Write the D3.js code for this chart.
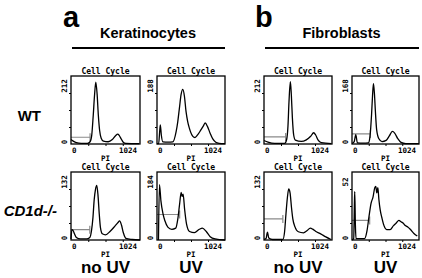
<!DOCTYPE html>
<html lang="en">
<head>
<meta charset="utf-8">
<title>Cell cycle histograms</title>
<script src="https://cdn.jsdelivr.net/npm/d3@7"></script>
<style>
  body { margin: 0; background: #fff; }
  svg { display: block; }
</style>
</head>
<body>
<script>
// histogram data, PI channel (0-1024) and event counts
var kerWtNoUvCh    = [0, 33, 80, 151, 245, 283, 307, 330, 349, 368, 387, 406, 425, 448, 481, 552, 613, 661, 694, 717, 750, 779, 812, 1010];
var kerWtNoUvCount = [14, 9, 4, 2, 2, 7, 26, 89, 151, 193, 157, 89, 42, 18, 9, 7, 14, 26, 31, 26, 14, 5, 2, 1];

var kerWtUvCh    = [0, 25, 40, 50, 65, 89, 164, 239, 288, 313, 338, 363, 388, 413, 437, 462, 487, 537, 572, 611, 661, 701, 726, 761, 800, 840, 885, 935, 1024];
var kerWtUvCount = [1, 1, 34, 53, 25, 6, 5, 6, 34, 62, 100, 137, 151, 132, 90, 62, 44, 22, 18, 25, 39, 51, 58, 48, 30, 14, 5, 2, 1];

var fibWtNoUvCh    = [0, 60, 161, 311, 341, 361, 376, 397, 412, 427, 447, 472, 562, 637, 703, 748, 778, 813, 863, 1014];
var fibWtNoUvCount = [11, 6, 2, 2, 14, 56, 130, 194, 152, 83, 28, 12, 8, 13, 24, 35, 28, 13, 4, 1];

var fibWtUvCh    = [0, 34, 58, 82, 169, 251, 275, 299, 314, 328, 343, 357, 377, 411, 459, 522, 570, 618, 652, 700, 749, 821, 1024];
var fibWtUvCount = [1, 6, 23, 3, 2, 3, 19, 73, 120, 149, 124, 82, 35, 13, 6, 9, 20, 31, 27, 13, 4, 1, 1];

var kerCdNoUvCh    = [0, 14, 33, 51, 79, 140, 233, 279, 303, 326, 344, 363, 382, 400, 419, 437, 465, 512, 582, 652, 698, 721, 749, 777, 815, 908, 1024];
var kerCdNoUvCount = [2, 20, 18, 12, 5, 2, 2, 5, 17, 44, 78, 98, 106, 88, 51, 24, 12, 10, 17, 27, 34, 37, 29, 14, 3, 1, 0];

var kerCdUvCh    = [22, 37, 59, 89, 119, 163, 223, 282, 312, 341, 364, 378, 393, 416, 445, 490, 564, 638, 683, 742, 801, 875, 1024];
var kerCdUvCount = [0, 150, 106, 72, 52, 35, 29, 32, 55, 98, 129, 118, 124, 83, 43, 23, 20, 29, 32, 23, 9, 3, 0];

var fibCdNoUvCh    = [0, 31, 52, 72, 129, 284, 310, 331, 352, 372, 393, 414, 434, 465, 517, 595, 646, 698, 734, 776, 853, 931, 1008];
var fibCdNoUvCount = [1, 3, 15, 4, 1, 1, 16, 51, 82, 99, 91, 63, 41, 26, 16, 14, 18, 23, 21, 17, 12, 6, 1];

var fibCdUvCh    = [0, 26, 36, 42, 52, 62, 114, 192, 229, 260, 291, 322, 348, 364, 379, 395, 411, 431, 457, 489, 530, 582, 634, 676, 717, 749, 780, 816, 852, 894, 946, 998];
var fibCdUvCount = [0, 1, 26, 37, 11, 1, 1, 1, 7, 18, 28, 33, 40, 41, 36, 40, 31, 23, 17, 11, 8, 8, 11, 13, 15, 14, 13, 11, 10, 8, 5, 3];

// panel order: row (WT, CD1d-/-) then column (Ker noUV, Ker UV, Fib noUV, Fib UV)
var channels = [kerWtNoUvCh, kerWtUvCh, fibWtNoUvCh, fibWtUvCh, kerCdNoUvCh, kerCdUvCh, fibCdNoUvCh, fibCdUvCh];
var counts   = [kerWtNoUvCount, kerWtUvCount, fibWtNoUvCount, fibWtUvCount, kerCdNoUvCount, kerCdUvCount, fibCdNoUvCount, fibCdUvCount];
var yMaxLabels = [212, 188, 212, 168, 132, 184, 132, 52];
var gateEnd   = [283, null, 326, 280, 279, 341, 284, 270];
var gateLevel = [21, null, 22, 25, 20, 69, 41, 15];
var xTickLabels = ["0", "1024"];
var panelTitle = "Cell Cycle";
var xAxisLabel = "PI";
var groupNames = ["Keratinocytes", "Fibroblasts"];
var groupLetters = ["a", "b"];
var rowNames = ["WT", "CD1d-/-"];
var colNames = ["no UV", "UV", "no UV", "UV"];

var w = 422, h = 278;
var colX = [71, 157, 264, 352];
var colW = [69, 68, 68, 67];
var rowY = [76, 172];
var panelH = 68;

var svg = d3.select("body").append("svg")
  .attr("width", w)
  .attr("height", h);

var sans = "'Liberation Sans', Arial, sans-serif";
var mono = "'DejaVu Sans Mono', monospace";

// headers
var groupLeft = [colX[0], colX[2]];
var groupRight = [colX[1] + colW[1], colX[3] + colW[3]];
groupNames.forEach(function(name, g) {
  var cx = (groupLeft[g] + groupRight[g]) / 2;
  svg.append("text").text(groupLetters[g])
    .attr("x", g == 0 ? 63 : 255).attr("y", 27)
    .attr("font-family", sans).attr("font-weight", "bold").attr("font-size", 29);
  svg.append("text").text(name)
    .attr("x", cx).attr("y", 38)
    .attr("text-anchor", "middle")
    .attr("font-family", sans).attr("font-weight", "bold").attr("font-size", 14.5);
  svg.append("line")
    .attr("x1", groupLeft[g] + 1).attr("x2", groupRight[g])
    .attr("y1", 48).attr("y2", 48)
    .attr("stroke", "#000").attr("stroke-width", 2);
});

// row labels
svg.append("text").text(rowNames[0])
  .attr("x", 41).attr("y", 121).attr("text-anchor", "end")
  .attr("font-family", sans).attr("font-weight", "bold").attr("font-size", 15);
svg.append("text").text(rowNames[1])
  .attr("x", 57).attr("y", 216).attr("text-anchor", "end")
  .attr("font-family", sans).attr("font-weight", "bold").attr("font-style", "italic").attr("font-size", 15);

// column labels
colNames.forEach(function(name, c) {
  svg.append("text").text(name)
    .attr("x", colX[c] + colW[c] / 2).attr("y", 273)
    .attr("text-anchor", "middle")
    .attr("font-family", sans).attr("font-weight", "bold").attr("font-size", 17);
});

// panels
for (var i = 0; i < 8; i++) {
  drawPanel(i);
}

function drawPanel(i) {
  var col = i % 4, row = Math.floor(i / 4);
  var left = colX[col], pw = colW[col];
  var top = rowY[row], bottom = top + panelH;

  var xScale = d3.scaleLinear().domain([0, 1024]).range([left, left + pw]);
  var yScale = d3.scaleLinear().domain([0, yMaxLabels[i]]).range([bottom, top]);

  var g = svg.append("g");

  g.append("text").text(panelTitle)
    .attr("x", left + pw / 2).attr("y", top - 2)
    .attr("text-anchor", "middle")
    .attr("font-family", mono).attr("font-weight", "bold").attr("font-size", 8);

  // gate marker
  if (gateEnd[i] != null) {
    var gy = yScale(gateLevel[i]);
    g.append("path")
      .attr("d", "M" + xScale(0) + "," + gy + "H" + xScale(gateEnd[i]) +
                 "M" + xScale(gateEnd[i]) + "," + (gy - 4) + "V" + (gy + 4))
      .attr("fill", "none").attr("stroke", "#8a8a8a").attr("stroke-width", 1.2);
  }

  var pts = channels[i].map(function(d, k) { return [d, counts[i][k]]; });
  var line = d3.line()
    .x(function(d) { return xScale(d[0]); })
    .y(function(d) { return yScale(d[1]); })
    .curve(d3.curveMonotoneX);
  g.append("path").datum(pts)
    .attr("d", line)
    .attr("fill", "none").attr("stroke", "#000").attr("stroke-width", 1.3);

  // axes ticks
  g.append("g").attr("transform", "translate(" + left + ",0)")
    .call(d3.axisLeft(yScale).tickValues(d3.range(1, 4).map(function(k) { return yMaxLabels[i] * k / 4; }))
      .tickSize(2).tickFormat(""))
    .call(function(a) { a.select(".domain").remove(); });
  g.append("g").attr("transform", "translate(0," + bottom + ")")
    .call(d3.axisBottom(xScale).tickValues([256, 512, 768]).tickSize(2).tickFormat(""))
    .call(function(a) { a.select(".domain").remove(); });

  g.append("rect")
    .attr("x", left).attr("y", top).attr("width", pw).attr("height", panelH)
    .attr("fill", "none").attr("stroke", "#000").attr("stroke-width", 1.3);

  // tick labels
  g.append("text").text(xTickLabels[0])
    .attr("x", left + 1).attr("y", bottom + 9)
    .attr("font-family", mono).attr("font-weight", "bold").attr("font-size", 7.5);
  g.append("text").text(xTickLabels[1])
    .attr("x", left + pw - 3).attr("y", bottom + 9).attr("text-anchor", "end")
    .attr("font-family", mono).attr("font-weight", "bold").attr("font-size", 7.5);
  g.append("text").text(xAxisLabel)
    .attr("x", left + pw / 2).attr("y", bottom + 16.5).attr("text-anchor", "middle")
    .attr("font-family", mono).attr("font-weight", "bold").attr("font-size", 7.5);

  g.append("text").text("0")
    .attr("transform", "translate(" + (left - 4) + "," + (bottom - 2) + ") rotate(-90)")
    .attr("text-anchor", "middle")
    .attr("font-family", mono).attr("font-weight", "bold").attr("font-size", 7.5);
  g.append("text").text(yMaxLabels[i])
    .attr("transform", "translate(" + (left - 4) + "," + (top + 10) + ") rotate(-90)")
    .attr("text-anchor", "middle")
    .attr("font-family", mono).attr("font-weight", "bold").attr("font-size", 7.5);
}
</script>
</body>
</html>
